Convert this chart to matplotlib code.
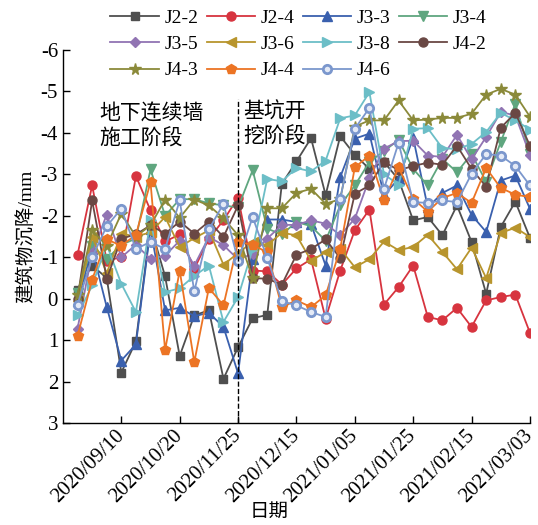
import matplotlib
matplotlib.use("Agg")
import matplotlib.pyplot as plt
import numpy as np

plt.rcParams['font.family'] = ['Liberation Serif', 'Noto Sans CJK SC']
plt.rcParams['axes.unicode_minus'] = False

# settlement readings (mm), 32 survey dates, negative = settlement upward on chart
J2_2 = [-0.22, -0.8, -0.5, 1.78, 1.03, -1.75, -0.54, 1.38, 0.4, 0.28, 1.93, 1.17, 0.47, 0.39, -2.77, -3.31,
        -3.87, -2.5, -3.92, -3.47, -3.13, -3.3, -2.87, -1.89, -1.97, -1.53, -2.25, -1.37, -0.12, -1.73, -2.34, -1.47]
J2_4 = [-1.06, -2.73, -0.92, -1.0, -2.96, -2.13, -1.38, -1.55, -0.72, -1.45, -1.89, -2.44, -0.68, -0.66, -0.34, -0.73,
        -0.95, 0.48, -0.68, -1.65, -2.15, 0.14, -0.28, -0.8, 0.44, 0.52, 0.22, 0.68, 0.04, -0.04, -0.1, 0.82]
J3_3 = [0.05, -1.2, 0.2, 1.49, 1.1, -1.69, 0.28, 0.22, 0.42, 0.34, 0.68, 1.8, -0.95, -1.91, -1.91, -1.85,
        -1.8, -0.8, -2.93, -3.86, -3.98, -2.5, -2.89, -3.88, -2.2, -2.55, -2.73, -2.02, -1.61, -2.85, -2.97, -2.17]
J3_4 = [-0.15, -1.28, -0.96, -1.3, -1.45, -3.12, -2.0, -2.4, -2.4, -2.3, -2.25, -2.2, -3.1, -1.69, -1.55, -1.85,
        -1.75, -1.4, -2.25, -2.73, -3.3, -3.56, -3.83, -3.13, -2.73, -3.37, -3.05, -3.49, -2.82, -3.78, -4.7, -3.5]
J3_5 = [0.72, -1.1, -2.03, -1.0, -1.3, -0.96, -1.04, -1.4, -0.8, -1.49, -1.29, -0.95, -1.08, -1.45, -1.78, -1.78,
        -1.89, -1.81, -1.53, -1.93, -2.9, -3.62, -3.8, -3.81, -3.45, -3.42, -3.95, -3.36, -3.9, -4.5, -4.42, -3.47]
J3_6 = [0.05, -1.5, -0.62, -1.57, -1.5, -1.6, -1.97, -1.25, -1.46, -1.65, -0.82, -1.1, -1.37, -1.29, -1.59, -1.53,
        -0.92, -1.12, -1.2, -0.76, -0.95, -1.38, -1.17, -1.25, -1.54, -1.13, -0.71, -1.23, -0.5, -1.59, -1.71, -1.49]
J3_8 = [0.4, -0.32, -1.3, -0.36, 0.32, -1.89, -0.16, -0.25, -0.55, -0.8, 0.56, -0.04, -1.2, -2.89, -2.83, -3.15,
        -3.07, -3.33, -4.35, -4.42, -4.98, -3.0, -2.75, -4.1, -4.11, -3.63, -3.61, -3.73, -4.02, -4.48, -4.3, -4.08]
J4_2 = [0.0, -2.37, -0.48, -1.45, -1.55, -1.77, -1.57, -1.86, -1.57, -1.86, -1.49, -2.25, -0.5, -0.48, -0.34, -1.06,
        -1.2, -1.43, -0.98, -2.53, -2.73, -3.3, -3.1, -3.2, -3.28, -3.23, -3.69, -3.13, -2.7, -4.12, -4.48, -3.69]
J4_3 = [-0.1, -1.65, -1.28, -2.05, -1.5, -1.77, -2.39, -1.95, -2.39, -2.25, -1.94, -1.53, -0.5, -2.18, -2.18, -2.55,
        -2.65, -2.29, -2.4, -4.15, -4.3, -4.3, -4.78, -4.3, -4.32, -4.36, -4.36, -4.46, -4.92, -5.06, -4.92, -4.39]
J4_4 = [0.9, -0.46, -1.43, -1.28, -1.54, -2.81, 1.24, -0.68, 1.53, -0.26, 0.16, -1.37, -1.3, -1.12, 0.2, 0.04,
        0.2, -0.08, -1.2, -3.17, -3.45, -2.37, -3.17, -2.41, -2.1, -2.43, -2.55, -2.31, -3.15, -2.67, -2.51, -2.45]
J4_6 = [0.14, -1.0, -1.75, -2.17, -1.2, -1.37, -1.2, -2.37, -0.18, -1.67, -2.29, -0.92, -1.97, -0.98, 0.06, 0.16,
        0.32, 0.44, -2.41, -4.1, -4.6, -2.65, -3.76, -2.33, -2.31, -2.37, -2.33, -3.01, -3.49, -3.45, -3.2, -2.73]

tick_pos = [3, 7, 11, 15, 19, 23, 27, 31]
tick_labels = ['2020/09/10', '2020/10/20', '2020/11/25', '2020/12/15',
               '2021/01/05', '2021/01/25', '2021/02/15', '2021/03/03']
stage_split = 11

series = [
    ('J2-2', J2_2, '#4f4f4f', 's', 5.5),
    ('J2-4', J2_4, '#d7343f', 'o', 6.5),
    ('J3-3', J3_3, '#3a60ae', '^', 6.5),
    ('J3-4', J3_4, '#5fa67f', 'v', 6.5),
    ('J3-5', J3_5, '#9174b3', 'D', 5.5),
    ('J3-6', J3_6, '#b8952d', '<', 6.5),
    ('J3-8', J3_8, '#6cbec7', '>', 6.5),
    ('J4-2', J4_2, '#6a4844', 'o', 6.5),
    ('J4-3', J4_3, '#8b8a3a', '*', 8.5),
    ('J4-4', J4_4, '#ec7424', 'p', 7),
    ('J4-6', J4_6, '#7b97cd', 'o', 6),
]

fig = plt.figure(figsize=(5.38, 5.25), dpi=100)
ax = fig.add_axes([0.117, 0.194, 0.868, 0.711])

x = np.arange(len(J2_2))
handles = {}
for name, vals, color, mk, ms in series:
    if name == 'J4-6':
        h, = ax.plot(x, vals, color=color, marker=mk, ms=ms, lw=1.3,
                     mfc='#e4eaf6', mec=color, mew=2.0, label=name)
    else:
        h, = ax.plot(x, vals, color=color, marker=mk, ms=ms, lw=1.3,
                     mec=color, label=name)
    handles[name] = h

# boundary between wall construction and excavation stages
ax.vlines(stage_split, 3, -4.82, colors='black', linestyles='--', lw=1.0)

ax.text(1.5, -4.68, '地下连续墙\n施工阶段', fontsize=15, va='top', ha='left', linespacing=1.3)
ax.text(11.35, -4.72, '基坑开\n挖阶段', fontsize=15, va='top', ha='left', linespacing=1.3)

ax.set_xlim(-1, 31)
ax.set_ylim(3, -6)
ax.set_yticks(np.arange(-6, 4, 1))
ax.set_yticklabels([str(v) if v >= 0 else '-' + str(-v) for v in range(-6, 4)])
ax.set_xticks(tick_pos)
ax.set_xticklabels(tick_labels, rotation=45, ha='right', va='center', rotation_mode='anchor')
ax.tick_params(direction='in', length=5, width=1, labelsize=15)
ax.tick_params(axis='x', pad=7)

for s in ['top', 'right']:
    ax.spines[s].set_visible(False)
for s in ['left', 'bottom']:
    ax.spines[s].set_linewidth(1.0)

ax.set_ylabel('建筑物沉降/mm', fontsize=14, labelpad=4)
fig.text(0.5, 0.025, '日期', fontsize=14, ha='center', va='center')

order = ['J2-2', 'J3-5', 'J4-3', 'J2-4', 'J3-6', 'J4-4', 'J3-3', 'J3-8', 'J4-6', 'J3-4', 'J4-2']
fig.legend([handles[n] for n in order], order, loc='upper center', bbox_to_anchor=(0.555, 1.005),
           ncol=4, frameon=False, fontsize=14, handlelength=2.5, handletextpad=0.3,
           columnspacing=0.4, labelspacing=0.45, borderaxespad=0.2)

fig.savefig('out.png', dpi=100)
